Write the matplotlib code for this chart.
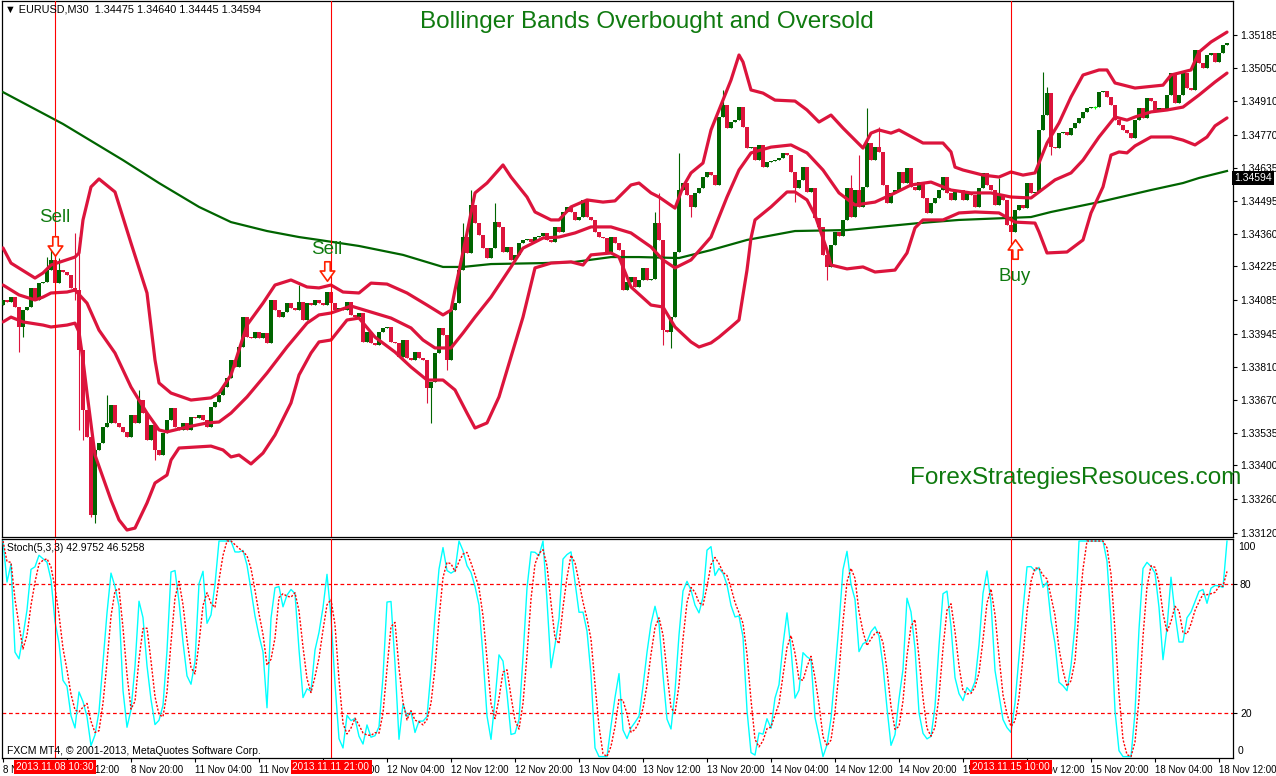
import numpy as np
import pandas as pd
import matplotlib
matplotlib.use("Agg")
import matplotlib.pyplot as plt
from matplotlib.path import Path

plt.rcParams['font.family'] = ['Liberation Sans', 'DejaVu Sans']

# ---------------- data (prices in points, 1 point = 0.00001) ----------------
first_open_pts = 134065
close_pts = [
    134086,134078,134098,134057,133974,134044,134057,134136,134086,134156,
    134161,134210,134252,134156,134210,134202,134190,134136,134127,133879,
    133630,133518,133194,133464,133493,133559,133576,133651,133576,133559,
    133539,133518,133609,133576,133671,133617,133505,133568,133464,133443,
    133534,133588,133638,133559,133547,133576,133547,133601,133597,133609,
    133588,133559,133642,133663,133692,133725,133762,133837,133808,133891,
    134015,133932,133928,133953,133928,133949,133908,134086,134044,134015,
    134036,134073,134053,134044,134078,134003,134073,134065,134086,134073,
    134065,134119,134073,134044,134053,134044,134078,134024,134015,134032,
    133912,133953,133908,133899,133953,133970,133974,133912,133908,133850,
    133920,133845,133837,133870,133845,133837,133721,133746,133866,133970,
    133941,133837,134044,134073,134210,134347,134281,134480,134405,134355,
    134301,134260,134301,134409,134389,134285,134306,134252,134273,134322,
    134335,134339,134326,134347,134351,134364,134335,134326,134389,134368,
    134451,134472,134451,134418,134430,134501,134430,134418,134368,134347,
    134343,134285,134347,134322,134293,134127,134161,134181,134140,134169,
    134219,134169,134173,134405,134335,133961,133953,134015,134285,134542,
    134571,134521,134472,134530,134550,134596,134617,134604,134563,134845,
    134895,134799,134824,134832,134886,134803,134716,134720,134666,134729,
    134637,134658,134662,134666,134675,134696,134687,134617,134550,134584,
    134637,134534,134550,134426,134389,134273,134223,134314,134368,134351,
    134418,134550,134430,134542,134472,134555,134737,134666,134720,134700,
    134563,134488,134530,134542,134617,134571,134633,134555,134542,134575,
    134509,134447,134488,134509,134542,134596,134530,134501,134534,134542,
    134501,134534,134521,134472,134550,134613,134563,134542,134480,134521,
    134501,134397,134368,134459,134480,134467,134571,134530,134534,134791,
    134853,134944,134720,134716,134778,134783,134770,134799,134820,134841,
    134866,134882,134886,134886,134948,134953,134928,134895,134832,134812,
    134791,134778,134758,134832,134882,134841,134924,134911,134874,134882,
    134874,134936,135027,134903,134936,135027,134965,134957,135123,135069,
    135048,135102,135110,135073,135110,135143,135152,
]
high_pts = {11: 134264, 12: 134293, 13: 134285, 14: 134260, 18: 134364, 19: 134347,
            26: 133692, 34: 133713, 74: 134148, 115: 134405, 117: 134542, 123: 134488,
            163: 134451, 164: 134530, 169: 134696, 180: 134957, 212: 134604, 214: 134687,
            216: 134882, 219: 134803, 249: 134592, 260: 135031, 261: 134969}
low_pts = {4: 133870, 5: 133932, 18: 134086, 19: 133547, 20: 133505, 22: 133186,
           23: 133161, 38: 133422, 106: 133659, 107: 133576, 111: 133796, 165: 133899,
           167: 133887, 172: 134430, 198: 134492, 206: 134169, 252: 134322, 262: 134687}

# Bollinger bands (bar index, points)
up_idx = [0,2,8,10,12,18,19,20,22,24,28,32,36,38,39,42,47,52,54,57,61,65,68,72,76,79,82,85,89,92,
          96,101,106,110,112,113,116,118,121,125,127,131,133,137,139,142,146,150,153,157,159,162,
          164,168,170,172,175,177,179,182,184,185,187,190,193,198,201,204,207,210,215,217,219,222,
          224,230,235,237,238,240,245,249,252,255,258,261,264,267,270,274,276,278,283,290,292,297,
          299,302,306]
up_val = [134302,134239,134177,134198,134231,134264,134281,134418,134555,134588,134534,134322,
          134115,133837,133742,133700,133671,133680,133700,133775,133982,134073,134148,134169,
          134140,134136,134148,134119,134115,134156,134152,134115,134065,134024,134044,134127,
          134364,134530,134571,134646,134596,134513,134451,134418,134418,134472,134501,134492,
          134497,134563,134571,134530,134513,134467,134555,134613,134654,134791,134874,134998,
          135102,135073,134957,134944,134915,134911,134874,134824,134853,134799,134716,134778,
          134791,134778,134791,134737,134737,134700,134637,134625,134604,134596,134617,134604,
          134613,134737,134820,134928,135019,135040,135040,134986,134965,134977,135019,135040,
          135114,135156,135197]
mid_idx = [0,4,8,10,12,16,18,21,24,28,32,36,39,41,46,51,54,57,61,66,71,76,79,82,87,92,97,102,105,
           108,112,115,118,122,127,130,135,139,143,147,152,157,162,165,168,172,177,181,184,187,192,
           197,201,205,209,213,218,223,227,232,237,242,247,252,257,259,263,267,270,274,278,281,283,
           287,291,295,299,303,306]
mid_val = [134148,134107,134086,134098,134115,134119,134127,134073,133961,133866,133725,133617,
           133547,133539,133559,133576,133580,133617,133684,133783,133891,133990,134024,134032,
           134061,134036,134011,133970,133920,133887,133887,133949,134015,134098,134223,134301,
           134343,134347,134364,134389,134389,134364,134306,134252,134219,134252,134347,134513,
           134625,134696,134720,134729,134696,134625,134530,134480,134492,134530,134563,134575,
           134542,134530,134530,134513,134509,134534,134584,134613,134666,134762,134845,134832,
           134845,134866,134874,134886,134936,134990,135027]
lo_idx = [0,2,5,10,12,16,18,19,20,21,23,27,29,31,33,36,38,41,42,44,52,55,57,59,62,65,68,72,74,77,
          79,82,86,89,93,98,102,106,110,113,116,118,121,124,127,130,133,137,142,145,147,152,154,157,
          162,165,168,172,174,177,179,182,184,185,186,187,188,192,196,198,201,203,206,207,211,215,
          218,223,226,228,230,235,239,243,249,253,258,259,261,266,270,272,275,277,279,281,283,287,
          292,295,298,301,303,306]
lo_val = [133995,134015,133995,133982,133974,133982,133990,133953,133837,133700,133443,133256,
          133174,133132,133140,133244,133327,133360,133422,133472,133480,133464,133435,133443,
          133406,133451,133526,133659,133775,133866,133912,133920,134003,134011,133932,133870,
          133808,133754,133754,133713,133617,133555,133576,133684,133850,134015,134219,134239,
          134244,134231,134273,134281,134264,134140,134065,134057,133974,133912,133891,133908,
          133932,133974,134003,134107,134210,134343,134418,134472,134534,134534,134501,134438,
          134293,134231,134215,134223,134202,134210,134281,134385,134418,134418,134447,134451,
          134447,134409,134405,134368,134281,134285,134335,134447,134555,134687,134700,134696,
          134725,134762,134762,134749,134729,134762,134808,134841]
# long moving average
ma_idx = [0,15,30,39,49,57,66,74,79,89,100,110,115,122,135,143,152,159,169,177,186,198,211,219,
          229,239,257,262,274,287,295,299,306]
ma_val = [134948,134816,134666,134571,134472,134409,134372,134347,134335,134310,134273,134223,
          134223,134235,134239,134244,134264,134264,134260,134293,134335,134372,134376,134389,
          134405,134418,134430,134451,134492,134542,134571,134592,134621]

price_ticks = [1.35185,1.35050,1.34910,1.34770,1.34635,1.34495,1.34360,1.34225,1.34085,
               1.33945,1.33810,1.33670,1.33535,1.33400,1.33260,1.33120]
time_tick_bars = list(range(0, 307, 16))
time_labels = ["8 Nov 04:00","8 Nov 12:00","8 Nov 20:00","11 Nov 04:00","11 Nov 12:00",
               "11 Nov 20:00","12 Nov 04:00","12 Nov 12:00","12 Nov 20:00","13 Nov 04:00",
               "13 Nov 12:00","13 Nov 20:00","14 Nov 04:00","14 Nov 12:00","14 Nov 20:00",
               "15 Nov 04:00","15 Nov 12:00","15 Nov 20:00","18 Nov 04:00","18 Nov 12:00"]
event_bars = [13, 82, 252]
event_labels = ["2013.11.08 10:30", "2013.11.11 21:00", "2013.11.15 10:00"]
sell_idx = [13, 81]
sell_price = [1.34309, 1.34206]
buy_idx = [253]
buy_price = [1.34297]
stoch_levels = [80, 20]

# ---------------- derived ----------------
P = 1e-5
closes = np.array(close_pts) * P
opens = np.r_[first_open_pts * P, closes[:-1]]
highs = np.maximum(opens, closes)
lows = np.minimum(opens, closes)
for k, v in high_pts.items():
    highs[k] = max(highs[k], v * P)
for k, v in low_pts.items():
    lows[k] = min(lows[k], v * P)
n = len(closes)
x = np.arange(n)

hh = pd.Series(highs).rolling(5, min_periods=1).max()
ll = pd.Series(lows).rolling(5, min_periods=1).min()
num = (pd.Series(closes) - ll).rolling(3, min_periods=1).sum()
den = (hh - ll).rolling(3, min_periods=1).sum()
stoch_k = 100 * num / den
stoch_d = stoch_k.rolling(3, min_periods=1).mean()

# ---------------- figure ----------------
W, H = 1276, 776
fig = plt.figure(figsize=(W / 100, H / 100), dpi=100)
fig.patch.set_facecolor('white')

def rect(l, t, r, b):
    return [l / W, 1 - b / H, (r - l) / W, (b - t) / H]

ax = fig.add_axes(rect(2, 1, 1233, 537))
ax2 = fig.add_axes(rect(2, 539, 1233, 758))
XL = (-0.25, 307.5)

BULL = '#006400'
BEAR = '#DC143C'
BAND = '#DC143C'

ax.set_xlim(*XL)
ax.set_ylim(1.33103, 1.35326)

up = closes > opens
dn = closes < opens
dj = closes == opens
minh = 0.00003
for m, col in ((up, BULL), (dn, BEAR)):
    ax.vlines(x[m], lows[m], highs[m], color=col, lw=0.8, zorder=3)
    ax.bar(x[m], np.maximum(np.abs(closes[m] - opens[m]), minh),
           bottom=np.minimum(opens[m], closes[m]), width=0.78, color=col, lw=0, zorder=3)
ax.vlines(x[dj], lows[dj] - 0.00006, highs[dj] + 0.00006, color='#00ff00', lw=0.8, zorder=3)
ax.hlines(closes[dj], x[dj] - 0.45, x[dj] + 0.45, color='#00ff00', lw=0.8, zorder=3)

ax.plot(ma_idx, np.array(ma_val) * P, color='#006400', lw=1.6, zorder=4)
for idx, val in ((up_idx, up_val), (mid_idx, mid_val), (lo_idx, lo_val)):
    ax.plot(idx, np.array(val) * P, color=BAND, lw=2.3, zorder=5,
            solid_joinstyle='round', solid_capstyle='round')

for a in (ax, ax2):
    for b in event_bars:
        a.axvline(b, color='#ff0000', lw=0.8, zorder=6)

# signal arrows
down_arrow = Path([(-0.28, 1.0), (0.28, 1.0), (0.28, 0.05), (0.75, 0.05), (0.0, -1.0),
                   (-0.75, 0.05), (-0.28, 0.05), (-0.28, 1.0)],
                  [Path.MOVETO] + [Path.LINETO] * 6 + [Path.CLOSEPOLY])
up_arrow = Path([(vx, -vy) for vx, vy in down_arrow.vertices], down_arrow.codes)
ax.plot(sell_idx, sell_price, ls='none', marker=down_arrow, ms=14, mfc='white',
        mec='#ff2000', mew=1.2, zorder=7)
ax.plot(buy_idx, buy_price, ls='none', marker=up_arrow, ms=14, mfc='white',
        mec='#ff2000', mew=1.2, zorder=7)
TXTG = '#0f7a0f'
for i, p, dy in zip(sell_idx, sell_price, [29, 22]):
    ax.annotate('Sell', (i, p), xytext=(0, dy), textcoords='offset pixels',
                ha='center', va='center', fontsize=13.5, color=TXTG, zorder=8)
for i, p in zip(buy_idx, buy_price):
    ax.annotate('Buy', (i, p), xytext=(0, -27), textcoords='offset pixels',
                ha='center', va='center', fontsize=13.5, color=TXTG, zorder=8)

ax.set_xticks([])
ax.yaxis.tick_right()
ax.set_yticks(price_ticks)
ax.set_yticklabels([f"{v:.5f}" for v in price_ticks])
ax.tick_params(axis='y', direction='out', length=3, width=0.8, labelsize=7.5, pad=2)

# stochastic panel
ax2.set_xlim(*XL)
ax2.set_ylim(-0.65, 100.93)
for lv in stoch_levels:
    ax2.axhline(lv, color='#ff0000', lw=0.9, ls=(0, (3, 2.2)), zorder=2)
ax2.plot(x, stoch_k, color='#00ffff', lw=1.0, zorder=3)
ax2.plot(x, stoch_d, color='#ff0000', lw=1.0, ls=(0, (1.5, 1.2)), zorder=4)
ax2.yaxis.tick_right()
ax2.set_yticks(stoch_levels)
ax2.set_yticklabels([str(v) for v in stoch_levels])
ax2.tick_params(axis='y', direction='out', length=3, width=0.8, labelsize=7.5, pad=2)
ax2.set_xticks(time_tick_bars)
ax2.set_xticklabels(time_labels)
ax2.tick_params(axis='x', direction='out', length=3, width=0.8, labelsize=7.0, pad=2)
for lab in ax2.get_xticklabels():
    lab.set_ha('left')

for a in (ax, ax2):
    for s in a.spines.values():
        s.set_linewidth(0.9)
        s.set_color('black')

def ftxt(px, py, s, **kw):
    return fig.text(px / W, 1 - py / H, s, **kw)

ftxt(1238, 547, '100', fontsize=7.5, va='center')
ftxt(1238, 751, '0', fontsize=7.5, va='center')

ftxt(5, 10, '\u25BC EURUSD,M30  1.34475 1.34640 1.34445 1.34594', fontsize=7.8, va='center',
     color='black')
ftxt(7, 548, 'Stoch(5,3,3) 42.9752 46.5258', fontsize=7.5, va='center')
ftxt(7, 751, 'FXCM MT4, \u00a9 2001-2013, MetaQuotes Software Corp.', fontsize=7.5, va='center')
ftxt(647, 22, 'Bollinger Bands Overbought and Oversold', fontsize=17.5, ha='center',
     va='center', color=TXTG)
ftxt(910, 478, 'ForexStrategiesResouces.com', fontsize=17.5, ha='left', va='center', color=TXTG)
ftxt(1234, 178, '1.34594', fontsize=7.5, va='center', color='white',
     bbox=dict(boxstyle='square,pad=0.2', fc='black', ec='none'))

for b, s in zip(event_bars, event_labels):
    ftxt(3 + 4 * b, 767, s, fontsize=7.2, ha='center', va='center', color='white',
         bbox=dict(boxstyle='square,pad=0.2', fc='#ff0000', ec='none'), zorder=10)

fig.savefig('out.png', dpi=100)
